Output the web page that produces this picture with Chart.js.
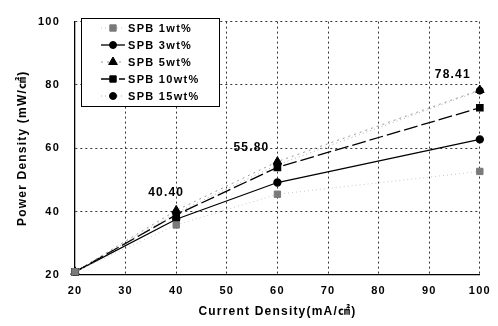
<!DOCTYPE html>
<html>
<head>
<meta charset="utf-8">
<script src="https://cdn.jsdelivr.net/npm/chart.js@4"></script>
<style>
  html, body { margin: 0; padding: 0; background: #fff; }
  #wrap { width: 498px; height: 326px; position: relative; }
</style>
</head>
<body>
<div id="wrap"><canvas id="powerChart"></canvas></div>
<script>
// data
const currentDensity = [20, 40, 60, 100];
const spb1 = [21, 35.8, 45.5, 52.7];
const spb3 = [21, 37.6, 49.2, 62.8];
const spb5 = [21, 40.40, 55.80, 78.41];
const spb10 = [21, 39.0, 54.0, 72.8];
const spb15 = [21, 39.6, 54.8, 78.2];
const seriesNames = ['SPB 1wt%', 'SPB 3wt%', 'SPB 5wt%', 'SPB 10wt%', 'SPB 15wt%'];
const xTicks = [20, 30, 40, 50, 60, 70, 80, 90, 100];
const yTicks = [20, 40, 60, 80, 100];
const peakLabels = ['40.40', '55.80', '78.41'];
const peakX = [40, 60, 100];
const peakY = [40.40, 55.80, 78.41];

const FONT = "'Liberation Sans', Arial, 'Noto Sans CJK KR', sans-serif";

function toPoints(vals) {
    return currentDensity.map((x, i) => ({ x: x, y: vals[i] }));
}

const datasets = [{
    label: seriesNames[0],
    data: toPoints(spb1),
    borderColor: '#c8c8c8',
    borderWidth: 1,
    borderDash: [1, 3],
    pointStyle: 'rect',
    pointRadius: 4.5,
    pointBackgroundColor: '#7a7a7a',
    pointBorderColor: '#7a7a7a'
}, {
    label: seriesNames[1],
    data: toPoints(spb3),
    borderColor: '#000',
    borderWidth: 1.3,
    pointStyle: 'circle',
    pointRadius: 3.5,
    pointBackgroundColor: '#000',
    pointBorderColor: '#000'
}, {
    label: seriesNames[4],
    data: toPoints(spb15),
    borderColor: '#b0b0b0',
    borderWidth: 1,
    borderDash: [1, 3],
    pointStyle: 'circle',
    pointRadius: 3.5,
    pointBackgroundColor: '#000',
    pointBorderColor: '#000'
}, {
    label: seriesNames[3],
    data: toPoints(spb10),
    borderColor: '#000',
    borderWidth: 1.3,
    borderDash: [14, 4],
    pointStyle: 'rect',
    pointRadius: 4.5,
    pointBackgroundColor: '#000',
    pointBorderColor: '#000'
}, {
    label: seriesNames[2],
    data: toPoints(spb5),
    borderColor: '#999',
    borderWidth: 1,
    borderDash: [2, 4],
    pointStyle: 'triangle',
    pointRadius: 5,
    pointBackgroundColor: '#000',
    pointBorderColor: '#000'
}];
datasets.forEach(ds => { ds.clip = false; });

// legend order as in the reference
const legendOrder = [0, 1, 4, 3, 2];

function drawMarker(ctx, ds, x, y) {
    ctx.save();
    ctx.fillStyle = ds.pointBackgroundColor;
    ctx.strokeStyle = ds.pointBorderColor;
    Chart.helpers.drawPoint(ctx, {
        pointStyle: ds.pointStyle,
        radius: ds.pointRadius,
        borderWidth: 1,
        rotation: 0
    }, x, y);
    ctx.restore();
}

const spacingPlugin = {
    id: 'spacing',
    beforeDraw(chart) {
        chart.ctx.letterSpacing = '1.2px';
    }
};

const legendPlugin = {
    id: 'boxLegend',
    afterDatasetsDraw(chart) {
        const ctx = chart.ctx;
        ctx.save();
        ctx.letterSpacing = '1.3px';
        ctx.fillStyle = '#fff';
        ctx.fillRect(81, 18, 138, 88);
        ctx.strokeStyle = '#000';
        ctx.lineWidth = 1;
        ctx.strokeRect(81.5, 18.5, 138, 88);
        legendOrder.forEach((di, row) => {
            const ds = chart.data.datasets[di];
            const y = 28 + row * 17;
            ctx.save();
            ctx.strokeStyle = ds.borderColor;
            ctx.lineWidth = ds.borderWidth;
            ctx.setLineDash(ds.borderDash || []);
            ctx.beginPath();
            ctx.moveTo(101, y);
            ctx.lineTo(125, y);
            ctx.stroke();
            ctx.restore();
            drawMarker(ctx, ds, 113, y);
            ctx.fillStyle = '#000';
            ctx.font = 'bold 11px ' + FONT;
            ctx.textAlign = 'left';
            ctx.textBaseline = 'middle';
            ctx.fillText(ds.label, 128, y + 1);
        });
        ctx.restore();
    }
};

const peakPlugin = {
    id: 'peakLabels',
    afterDatasetsDraw(chart) {
        const ctx = chart.ctx;
        const xs = chart.scales.x, ys = chart.scales.y;
        const shift = [[-10, -18], [-26, -14], [-27, -15]];
        ctx.save();
        ctx.letterSpacing = '1.2px';
        ctx.font = 'bold 12px ' + FONT;
        ctx.fillStyle = '#000';
        ctx.textAlign = 'center';
        ctx.textBaseline = 'middle';
        peakLabels.forEach((txt, i) => {
            const px = xs.getPixelForValue(peakX[i]) + shift[i][0];
            const py = ys.getPixelForValue(peakY[i]) + shift[i][1];
            ctx.fillText(txt, px, py);
        });
        ctx.restore();
    }
};

const gridColor = c => c.tick.value === 20 ? 'rgba(0,0,0,0)' : '#333';

const ctx = document.getElementById('powerChart').getContext('2d');
new Chart(ctx, {
    type: 'line',
    data: { datasets: datasets },
    options: {
        responsive: true,
        maintainAspectRatio: false,
        animation: false,
        layout: { padding: { top: 13, right: 18, left: 0, bottom: 0 } },
        plugins: {
            legend: { display: false },
            tooltip: { enabled: false }
        },
        scales: {
            x: {
                type: 'linear',
                min: 20,
                max: 100,
                afterFit: s => { s.height = 51; },
                afterBuildTicks: s => { s.ticks = xTicks.map(v => ({ value: v })); },
                grid: { drawTicks: false, color: gridColor, lineWidth: 1 },
                border: { color: '#000', width: 1.3, dash: [2, 3] },
                ticks: {
                    padding: 9,
                    color: '#000',
                    maxRotation: 0,
                    font: { family: FONT, size: 11, weight: 'bold' }
                },
                title: {
                    display: true,
                    text: 'Current Density(mA/㎠)',
                    color: '#000',
                    padding: { top: 0, bottom: 7 },
                    font: { family: FONT, size: 12, weight: 'bold' }
                }
            },
            y: {
                min: 20,
                max: 100,
                afterFit: s => { s.width = 75; },
                afterBuildTicks: s => { s.ticks = yTicks.map(v => ({ value: v })); },
                grid: { drawTicks: false, color: gridColor, lineWidth: 1 },
                border: { color: '#000', width: 1.3, dash: [2, 3] },
                ticks: {
                    padding: 15,
                    color: '#000',
                    font: { family: FONT, size: 11, weight: 'bold' }
                },
                title: {
                    display: true,
                    text: 'Power Density (mW/㎠)',
                    color: '#000',
                    padding: { top: 15, bottom: 0 },
                    font: { family: FONT, size: 12, weight: 'bold' }
                }
            }
        }
    },
    plugins: [spacingPlugin, peakPlugin, legendPlugin]
});
</script>
</body>
</html>
